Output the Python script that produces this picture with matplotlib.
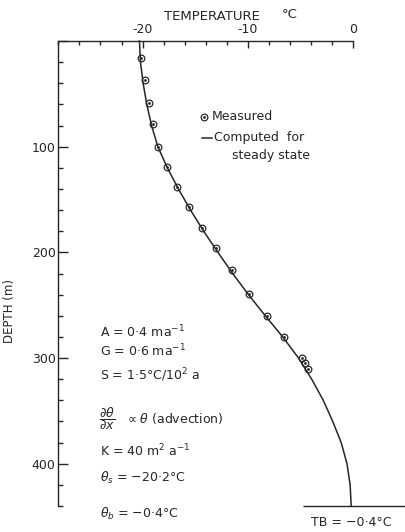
import numpy as np
import matplotlib
matplotlib.use("Agg")
import matplotlib.pyplot as plt
from matplotlib.ticker import MultipleLocator

# measured temperatures (deg C) and depths (m)
meas_depth = [16, 37, 59, 79, 100, 119, 138, 157, 177, 196, 217, 239, 260, 280, 300, 305, 310]
meas_temp = [-20.15, -19.8, -19.4, -19.05, -18.5, -17.65, -16.7, -15.6, -14.4, -13.0,
             -11.55, -9.9, -8.2, -6.6, -4.9, -4.6, -4.3]

# computed steady-state profile
calc_depth = [0, 20, 40, 60, 80, 100, 120, 140, 160, 180, 200, 220, 240, 260, 280,
              300, 320, 340, 360, 380, 400, 420, 440]
calc_temp = [-20.3, -20.2, -19.95, -19.6, -19.15, -18.55, -17.65, -16.6, -15.45, -14.2,
             -12.85, -11.45, -9.95, -8.35, -6.7, -5.2, -3.95, -2.85, -1.95, -1.15,
             -0.6, -0.3, -0.2]

bed_line = [-4.75, 4.9]   # TB line drawn under the axis at the bed
bed_depth = 440

W, H = 405, 532
fig = plt.figure(figsize=(W / 100, H / 100), dpi=100)
ax = fig.add_axes([58.3 / W, 1 - 506 / H, 295 / W, 465 / H])

ink = '#262626'


def px(x, y):
    return x / W, 1 - y / H


ax.plot(calc_temp, calc_depth, color=ink, lw=1.1, clip_on=False)
ax.plot(meas_temp, meas_depth, 'o', ms=4.8, mfc='none', mec=ink, mew=0.9)
ax.plot(meas_temp, meas_depth, '.', ms=2.0, color=ink)
ax.hlines(bed_depth, bed_line[0], bed_line[1], color=ink, lw=1.0, clip_on=False)

ax.set_xlim(-28, 0)
ax.set_ylim(440, 0)
ax.xaxis.tick_top()
ax.xaxis.set_major_locator(MultipleLocator(10))
ax.xaxis.set_minor_locator(MultipleLocator(2))
ax.yaxis.set_major_locator(MultipleLocator(100))
ax.yaxis.set_minor_locator(MultipleLocator(20))
ax.xaxis.set_major_formatter(lambda v, p: '0' if v == 0 else '-%d' % abs(v))
ax.yaxis.set_major_formatter(lambda v, p: '' if v == 0 else '%d' % v)

ax.tick_params(axis='x', which='major', direction='in', length=4.8, width=1.0,
               pad=3.5, labelsize=9, colors=ink)
ax.tick_params(axis='x', which='minor', direction='in', length=3.1, width=1.0, colors=ink)
ax.tick_params(axis='y', which='major', direction='in', length=7.5, width=1.0,
               pad=2, labelsize=9, colors=ink)
ax.tick_params(axis='y', which='minor', direction='in', length=3.4, width=1.0, colors=ink)

for s in ['right', 'bottom']:
    ax.spines[s].set_visible(False)
for s in ['top', 'left']:
    ax.spines[s].set_linewidth(1.0)
    ax.spines[s].set_color(ink)

ax.set_ylabel('DEPTH (m)', fontsize=8.5, color=ink)
ax.yaxis.set_label_coords(-(58.3 - 16) / 295, 1 - (311 - 41) / 465)

fs = 9
fig.text(*px(212, 17), 'TEMPERATURE', ha='center', va='center', fontsize=9.5, color=ink)
fig.text(*px(282, 15), '°C', ha='left', va='center', fontsize=9.5, color=ink)

# legend
fig.lines.append(plt.Line2D([204 / W], [1 - 117 / H], marker='o', ms=4.8, mfc='none',
                            mec=ink, mew=0.9, transform=fig.transFigure))
fig.lines.append(plt.Line2D([204 / W], [1 - 117 / H], marker='.', ms=2.0, color=ink,
                            transform=fig.transFigure))
fig.text(*px(212, 117), 'Measured', ha='left', va='center', fontsize=fs, color=ink)
fig.lines.append(plt.Line2D([201.5 / W, 211.5 / W], [1 - 138 / H, 1 - 138 / H], lw=1.1,
                            color=ink, transform=fig.transFigure))
fig.text(*px(214, 138), 'Computed  for', ha='left', va='center', fontsize=fs, color=ink)
fig.text(*px(232, 155), 'steady state', ha='left', va='center', fontsize=fs, color=ink)

# parameters
params = [
    (337, 'A = 0·4 ma$^{-1}$'),
    (356, 'G = 0·6 ma$^{-1}$'),
    (380, 'S = 1·5°C/10$^{2}$ a'),
    (456, 'K = 40 m$^{2}$ a$^{-1}$'),
    (482, r'$\theta_s$ = −20·2°C'),
    (518, r'$\theta_b$ = −0·4°C'),
]
for y, t in params:
    fig.text(*px(100, y), t, ha='left', va='baseline', fontsize=fs, color=ink)
fig.text(*px(99, 419), r'$\dfrac{\partial\theta}{\partial x}$', ha='left', va='center',
         fontsize=fs, color=ink)
fig.text(*px(127, 419), r'∝ $\theta$ (advection)', ha='left', va='center',
         fontsize=fs, color=ink)

fig.text(*px(311, 522), 'TB = −0·4°C', ha='left', va='center', fontsize=fs, color=ink)

fig.savefig('out.png', dpi=100, facecolor='white')
